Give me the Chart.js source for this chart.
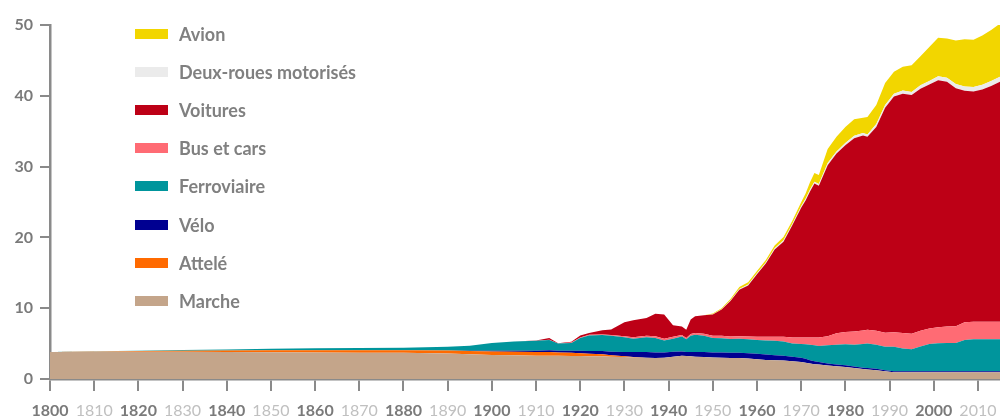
<!DOCTYPE html>
<html><head><meta charset="utf-8">
<script src="https://cdn.jsdelivr.net/npm/chart.js@4/dist/chart.umd.min.js"></script>
<style>
html,body{margin:0;padding:0;background:#fff;}
#wrap{position:relative;width:1000px;height:418px;}
#legend{position:absolute;left:135px;top:0;font-family:Lato,'Open Sans',sans-serif;font-weight:bold;font-size:18px;color:#808080;}
.item{position:absolute;left:0;height:20px;white-space:nowrap;}
.sw{position:absolute;left:0;top:5px;width:33px;height:10px;}
.lb{position:absolute;left:44px;top:0;line-height:20px;}
</style></head><body>
<div id="wrap"><canvas id="c" width="1000" height="418"></canvas><div id="legend"></div></div>
<script>
const years = [1800,1810,1820,1830,1840,1850,1860,1870,1880,1890,1895,1900,1905,1910,1913,1915,1918,1920,1922,1925,1927,1930,1932,1935,1937,1939,1941,1943,1944,1945,1946,1948,1950,1952,1954,1956,1958,1960,1962,1964,1966,1968,1970,1971,1972,1973,1974,1976,1978,1980,1982,1984,1985,1987,1989,1991,1993,1995,1997,1999,2001,2003,2005,2007,2009,2011,2013,2015];
const marche = [3.8,3.85,3.85,3.85,3.8,3.78,3.75,3.72,3.7,3.6,3.5,3.4,3.35,3.3,3.3,3.3,3.25,3.25,3.2,3.2,3.15,3.1,3.05,3.0,2.95,3.0,3.15,3.3,3.25,3.2,3.15,3.1,3.05,3.0,2.95,2.95,2.9,2.8,2.7,2.65,2.6,2.5,2.4,2.3,2.2,2.1,2.05,1.9,1.8,1.7,1.55,1.4,1.35,1.25,1.1,0.95,0.95,0.95,0.95,0.95,0.95,0.95,0.95,0.95,0.95,0.95,0.95,0.95];
const attele = [0.02,0.05,0.1,0.15,0.22,0.28,0.32,0.35,0.37,0.42,0.45,0.5,0.5,0.5,0.5,0.45,0.45,0.4,0.35,0.3,0.2,0.1,0.05,0,0,0,0,0,0,0,0,0,0,0,0,0,0,0,0,0,0,0,0,0,0,0,0,0,0,0,0,0,0,0,0,0,0,0,0,0,0,0,0,0,0,0,0,0];
const velo = [0,0,0,0,0,0,0,0,0,0,0.05,0.1,0.15,0.2,0.25,0.25,0.3,0.35,0.4,0.45,0.5,0.6,0.7,0.8,0.8,0.75,0.7,0.6,0.55,0.6,0.65,0.7,0.7,0.75,0.75,0.75,0.75,0.75,0.75,0.7,0.7,0.65,0.6,0.55,0.45,0.4,0.35,0.3,0.25,0.25,0.2,0.2,0.2,0.2,0.15,0.15,0.15,0.15,0.15,0.15,0.15,0.15,0.15,0.15,0.15,0.15,0.15,0.15];
const ferroviaire = [0,0.02,0.05,0.1,0.15,0.22,0.28,0.32,0.35,0.55,0.7,1.1,1.3,1.4,1.45,1.0,1.1,1.8,2.2,2.25,2.25,2.1,1.9,2.1,2.05,1.7,1.85,2.1,1.8,2.3,2.45,2.3,2.05,2.0,1.95,2.0,1.95,1.95,2.0,2.05,2.0,1.85,1.95,2.05,2.2,2.25,2.25,2.55,2.8,2.95,3.1,3.35,3.45,3.4,3.3,3.45,3.2,3.1,3.5,3.85,3.95,4.0,4.0,4.4,4.5,4.5,4.5,4.5];
const bus = [0,0,0,0,0,0,0,0,0,0,0,0,0,0,0.05,0,0.05,0.05,0.1,0.1,0.1,0.15,0.2,0.2,0.25,0.25,0.25,0.2,0.2,0.25,0.25,0.3,0.3,0.35,0.35,0.35,0.4,0.45,0.5,0.55,0.65,0.85,0.9,0.95,1.0,1.1,1.2,1.3,1.6,1.75,1.85,1.9,1.95,1.95,2.0,2.05,2.2,2.2,2.2,2.2,2.25,2.3,2.35,2.5,2.5,2.5,2.5,2.5];
const voitures = [0,0,0,0,0,0,0,0,0,0,0,0,0,0.05,0.25,0.06,0.1,0.3,0.25,0.6,0.8,1.95,2.4,2.5,3.15,3.4,1.65,1.2,1.15,2.05,2.35,2.6,3.0,3.7,5.0,6.55,7.2,8.85,10.35,12.35,13.45,15.85,18.35,19.35,20.65,21.75,21.45,24.15,25.4,26.35,27.3,27.55,27.25,28.8,31.75,33.3,33.8,33.7,34.2,34.45,34.9,34.6,33.6,32.7,32.5,32.8,33.3,33.9];
const deuxRoues = [0,0,0,0,0,0,0,0,0,0,0,0,0,0,0,0,0,0,0,0,0,0,0,0,0,0,0,0,0,0,0,0,0.05,0.05,0.1,0.1,0.15,0.15,0.15,0.15,0.2,0.2,0.2,0.25,0.25,0.25,0.25,0.3,0.3,0.35,0.35,0.35,0.35,0.4,0.4,0.4,0.45,0.45,0.5,0.5,0.55,0.55,0.6,0.6,0.65,0.65,0.7,0.7];
const avion = [0,0,0,0,0,0,0,0,0,0,0,0,0,0,0,0,0,0,0,0,0,0,0,0,0,0,0,0,0,0,0,0,0.1,0.15,0.2,0.3,0.3,0.3,0.35,0.4,0.45,0.45,0.55,0.75,1.05,1.25,1.25,2.0,2.05,2.25,2.35,2.15,2.45,2.7,3.1,3.1,3.35,3.75,4.1,4.8,5.45,5.55,6.15,6.7,6.65,6.95,7.2,7.5];
const yTicks = [0,10,20,30,40,50];

const series = [
  {label:'Marche', data:marche, color:'#c4a58a'},
  {label:'Attelé', data:attele, color:'#ff6a00'},
  {label:'Vélo', data:velo, color:'#000091'},
  {label:'Ferroviaire', data:ferroviaire, color:'#00959c'},
  {label:'Bus et cars', data:bus, color:'#ff6b74'},
  {label:'Voitures', data:voitures, color:'#bd0016'},
  {label:'Deux-roues motorisés', data:deuxRoues, color:'#ebebeb'},
  {label:'Avion', data:avion, color:'#f2d600'}
];

const datasets = series.map((s,i)=>({
  label:s.label,
  data:years.map((y,j)=>({x:y,y:s.data[j]})),
  backgroundColor:s.color,
  borderColor:s.color,
  borderWidth:0,
  pointRadius:0,
  tension:0,
  fill: i===0 ? 'origin' : '-1'
}));

const leg = document.getElementById('legend');
series.slice().reverse().forEach((s,i)=>{
  const d=document.createElement('div');d.className='item';
  d.style.top=(34+i*38.1-10)+'px';
  d.innerHTML='<span class="sw" style="background:'+s.color+'"></span><span class="lb">'+s.label+'</span>';
  leg.appendChild(d);
});

new Chart(document.getElementById('c'),{
  type:'line',
  data:{datasets},
  options:{
    responsive:false,
    animation:false,
    layout:{padding:{top:25,right:0,left:0,bottom:0}},
    plugins:{legend:{display:false},tooltip:{enabled:false}},
    scales:{
      x:{type:'linear',min:1800,max:2015,
        afterFit:(s)=>{s.height=39;s.paddingRight=0;s.paddingLeft=0;},
        border:{display:true,color:'#8a8a8a',width:2.5},
        grid:{drawOnChartArea:false,drawTicks:true,tickLength:12,color:'#8a8a8a',lineWidth:2},
        ticks:{stepSize:10,includeBounds:false,padding:10,maxRotation:0,autoSkip:false,
          callback:(v)=>String(v),
          color:(c)=>(c.tick.value%20===0?'#7a7a7a':'#c0c0c0'),
          font:(c)=>({family:'Lato',size:16,weight:(c.tick&&c.tick.value%20===0)?'bold':'normal'})}
      },
      y:{type:'linear',stacked:true,min:0,max:50,
        afterFit:(s)=>{s.width=50;s.paddingTop=0;s.paddingBottom=0;},
        afterBuildTicks:(s)=>{s.ticks=yTicks.map(v=>({value:v}));},
        border:{display:true,color:'#8a8a8a',width:2.5},
        grid:{drawOnChartArea:false,drawTicks:true,tickLength:10,color:'#8a8a8a',lineWidth:2},
        ticks:{padding:7,color:'#7a7a7a',font:{family:'Lato',size:16,weight:'bold'}}
      }
    }
  }
});
</script>
</body></html>
